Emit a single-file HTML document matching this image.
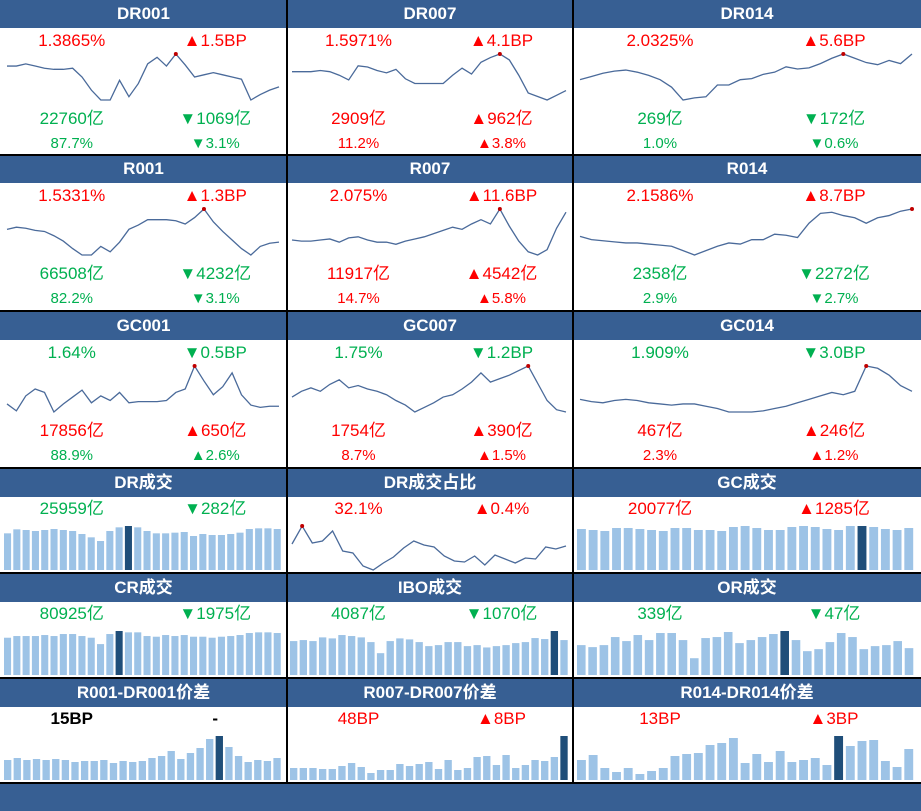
<!DOCTYPE html>
<html><head><meta charset="utf-8">
<style>
body{margin:0;width:921px;height:811px;background:#fff;position:relative;overflow:hidden;font-family:"Liberation Sans","Noto Sans CJK SC",sans-serif}
.hd{position:absolute;height:28px;background:#375f93;color:#fff;font-weight:bold;font-size:17px;line-height:28px;text-align:center}
.t{position:absolute;font-size:17px;transform:translateX(-50%);white-space:nowrap;line-height:20px}
.s{font-size:15px}
.r{color:#ff0000}.g{color:#00b050}.k{color:#000;font-weight:bold}
.vl{position:absolute;background:#000;width:2px}
.hl{position:absolute;background:#000;height:2px;left:0;width:921px}
</style></head><body>
<svg id="svg" width="921" height="811" style="position:absolute;left:0;top:0"></svg>
<script>
// ---- line series (rates) ----
const dr001=[68,68,66,68,70,71,71,70,78,90,99,99,81,96,84,66,60,68,57,67,78,76,74,76,78,80,99,94,90,87].map(v=>-v);
const dr007=[72,72,72,71,72,75,79,67,68,71,73,70,78,82,82,82,82,75,69,74,64,60,57,62,75,90,93,96,92,88].map(v=>-v);
const dr014=[80,77,74,72,71,73,76,80,87,99,97,96,85,85,80,79,75,73,68,70,69,65,60,56,60,64,66,62,65,56].map(v=>-v);
const r001=[230,228,229,231,232,236,241,248,254,254,246,251,242,230,226,221,221,221,222,225,219,211,223,232,240,248,254,246,243,242].map(v=>-v);
const r007=[241,242,242,241,240,243,239,238,241,243,243,245,242,240,238,235,232,229,231,226,222,226,212,228,242,252,255,250,230,215].map(v=>-v);
const r014=[237,240,241,242,243,243,244,245,246,250,254,250,246,243,244,240,240,235,236,238,225,216,215,218,220,225,220,218,214,212].map(v=>-v);
const gc001=[403,409,396,390,393,410,403,397,391,402,396,400,393,402,401,401,401,400,393,390,370,383,395,388,376,395,404,406,405,405].map(v=>-v);
const gc007=[397,392,389,392,386,382,389,387,390,392,395,400,404,410,406,402,397,395,390,384,376,384,381,378,374,370,385,400,408,410].map(v=>-v);
const gc014=[399,401,402,400,399,400,402,403,404,403,403,405,407,410,410,410,409,407,405,402,399,396,393,395,392,370,372,378,387,392].map(v=>-v);
const drShare=[544,526,543,541,531,551,553,566,570,563,557,548,541,545,547,556,561,562,556,565,555,559,563,558,559,547,549,546].map(v=>-v);
// ---- bar series (volumes / spreads) ----
const drVol=[110,122,120,117,120,123,120,117,108,98,87,117,128,132,128,117,110,110,112,114,102,108,105,105,108,112,123,125,125,123];
const crVol=[111,116,116,116,119,116,122,122,116,111,92,122,131,127,127,116,114,119,116,119,114,114,111,114,116,119,125,127,127,125];
const gcVol=[123,120,117,126,126,123,120,117,126,126,120,120,117,129,132,126,120,120,129,132,129,123,120,132,132,129,123,120,126];
const iboVol=[101,104,101,112,109,119,116,112,98,65,101,109,106,98,86,89,98,98,86,89,82,86,89,95,98,110,107,131,104];
const orVol=[89,83,89,113,101,119,104,125,125,104,50,110,113,128,95,104,113,122,131,104,71,77,98,125,113,77,86,89,101,80];
const sp001=[60,66,60,63,60,63,60,54,57,57,60,51,57,54,57,66,72,87,63,81,96,123,132,99,72,54,60,57,66];
const sp007=[36,36,36,33,33,42,51,39,21,30,30,48,42,48,54,33,60,30,36,69,72,45,75,36,45,60,57,69,132];
const sp014=[60,75,36,24,36,18,27,36,72,78,81,105,111,126,51,78,54,87,54,60,66,45,132,102,117,120,57,39,93];

const cols=[[0,287],[287,573],[573,921]];
const rows=[0,155,312,469,574,679];
const svg=document.getElementById('svg');
const NS='http://www.w3.org/2000/svg';
function div(cls,txt,x,y,w,name){const d=document.createElement('div');d.className=cls;d.textContent=txt;d.style.left=x+'px';d.style.top=y+'px';if(w)d.style.width=w+'px';


document.body.appendChild(d);return d;}
function header(c,r,txt){const [a,b]=cols[c];div('hd',txt,a,rows[r],b-a,'panel-title');}
function txt(c,r,dy,frac,cls,t){const [a,b]=cols[c];div('t '+cls,t,a+(b-a)*frac,rows[r]+dy-10,0,'panel-value');}
function line(c,r,data,dy0,dy1){
  const xr=[[7,279],[292,566],[580,912]][c];const top=rows[r]+dy0,bot=rows[r]+dy1;
  const mn=Math.min(...data),mx=Math.max(...data);
  const X=i=>xr[0]+(xr[1]-xr[0])*i/(data.length-1);const Y=v=>bot-(v-mn)/(mx-mn)*(bot-top);
  const p=document.createElementNS(NS,'polyline');
  p.setAttribute('points',data.map((v,i)=>X(i)+','+Y(v)).join(' '));
  p.setAttribute('fill','none');p.setAttribute('stroke','#4a6a9a');p.setAttribute('stroke-width','1.3');
  
  
  svg.appendChild(p);
  const mi=data.indexOf(mx);const d=document.createElementNS(NS,'circle');
  d.setAttribute('cx',X(mi));d.setAttribute('cy',Y(mx));d.setAttribute('r','2');d.setAttribute('fill','#c00000');
  
  
  svg.appendChild(d);
}
function bars(c,r,data,hi){
  const xr=[[4,283],[290,570],[577,916]][c];const bot=rows[r]+101;const H=44;
  const mx=Math.max(...data);const step=(xr[1]-xr[0])/data.length;
  data.forEach((v,i)=>{const h=v/mx*H;const e=document.createElementNS(NS,'rect');
    e.setAttribute('x',xr[0]+i*step);e.setAttribute('y',bot-h);e.setAttribute('width',step*0.76);e.setAttribute('height',h);
    e.setAttribute('fill',i===hi?'#1f4e79':'#9dc3e6');
    
    
    svg.appendChild(e);});
}
// row 1-3
const top3=[
 [['DR001',dr001,'r','1.3865%','r','▲1.5BP','g','22760亿','g','▼1069亿','g','87.7%','g','▼3.1%'],
  ['DR007',dr007,'r','1.5971%','r','▲4.1BP','r','2909亿','r','▲962亿','r','11.2%','r','▲3.8%'],
  ['DR014',dr014,'r','2.0325%','r','▲5.6BP','g','269亿','g','▼172亿','g','1.0%','g','▼0.6%']],
 [['R001',r001,'r','1.5331%','r','▲1.3BP','g','66508亿','g','▼4232亿','g','82.2%','g','▼3.1%'],
  ['R007',r007,'r','2.075%','r','▲11.6BP','r','11917亿','r','▲4542亿','r','14.7%','r','▲5.8%'],
  ['R014',r014,'r','2.1586%','r','▲8.7BP','g','2358亿','g','▼2272亿','g','2.9%','g','▼2.7%']],
 [['GC001',gc001,'g','1.64%','g','▼0.5BP','r','17856亿','r','▲650亿','g','88.9%','g','▲2.6%'],
  ['GC007',gc007,'g','1.75%','g','▼1.2BP','r','1754亿','r','▲390亿','r','8.7%','r','▲1.5%'],
  ['GC014',gc014,'g','1.909%','g','▼3.0BP','r','467亿','r','▲246亿','r','2.3%','r','▲1.2%']]];
top3.forEach((row,r)=>row.forEach((p,c)=>{
  header(c,r,p[0]);line(c,r,p[1],54,100);
  txt(c,r,41,0.25,p[2],p[3]);txt(c,r,41,0.75,p[4],p[5]);
  txt(c,r,119,0.25,p[6],p[7]);txt(c,r,119,0.75,p[8],p[9]);
  txt(c,r,144,0.25,p[10]+' s',p[11]);txt(c,r,144,0.75,p[12]+' s',p[13]);
}));
// row 4-6
header(0,3,'DR成交');txt(0,3,40,0.25,'g','25959亿');txt(0,3,40,0.75,'g','▼282亿');bars(0,3,drVol,13);
header(1,3,'DR成交占比');txt(1,3,40,0.25,'r','32.1%');txt(1,3,40,0.75,'r','▲0.4%');line(1,3,drShare,57,101);
header(2,3,'GC成交');txt(2,3,40,0.25,'r','20077亿');txt(2,3,40,0.75,'r','▲1285亿');bars(2,3,gcVol,24);
header(0,4,'CR成交');txt(0,4,40,0.25,'g','80925亿');txt(0,4,40,0.75,'g','▼1975亿');bars(0,4,crVol,12);
header(1,4,'IBO成交');txt(1,4,40,0.25,'g','4087亿');txt(1,4,40,0.75,'g','▼1070亿');bars(1,4,iboVol,27);
header(2,4,'OR成交');txt(2,4,40,0.25,'g','339亿');txt(2,4,40,0.75,'g','▼47亿');bars(2,4,orVol,18);
header(0,5,'R001-DR001价差');txt(0,5,40,0.25,'k','15BP');txt(0,5,40,0.75,'k','-');bars(0,5,sp001,22);
header(1,5,'R007-DR007价差');txt(1,5,40,0.25,'r','48BP');txt(1,5,40,0.75,'r','▲8BP');bars(1,5,sp007,28);
header(2,5,'R014-DR014价差');txt(2,5,40,0.25,'r','13BP');txt(2,5,40,0.75,'r','▲3BP');bars(2,5,sp014,22);
// footer
const f=div('hd','',0,784,921,'footer-bar');f.style.height='27px';
// grid lines
[155,311,468,573,678,783].forEach(y=>{const d=div('hl','',0,y-1,0,'grid-line');d.style.width='921px';});
[286,572].forEach(x=>{const d=div('vl','',x,0,0,'grid-line');d.style.width='2px';d.style.height='784px';});
</script>
</body></html>
